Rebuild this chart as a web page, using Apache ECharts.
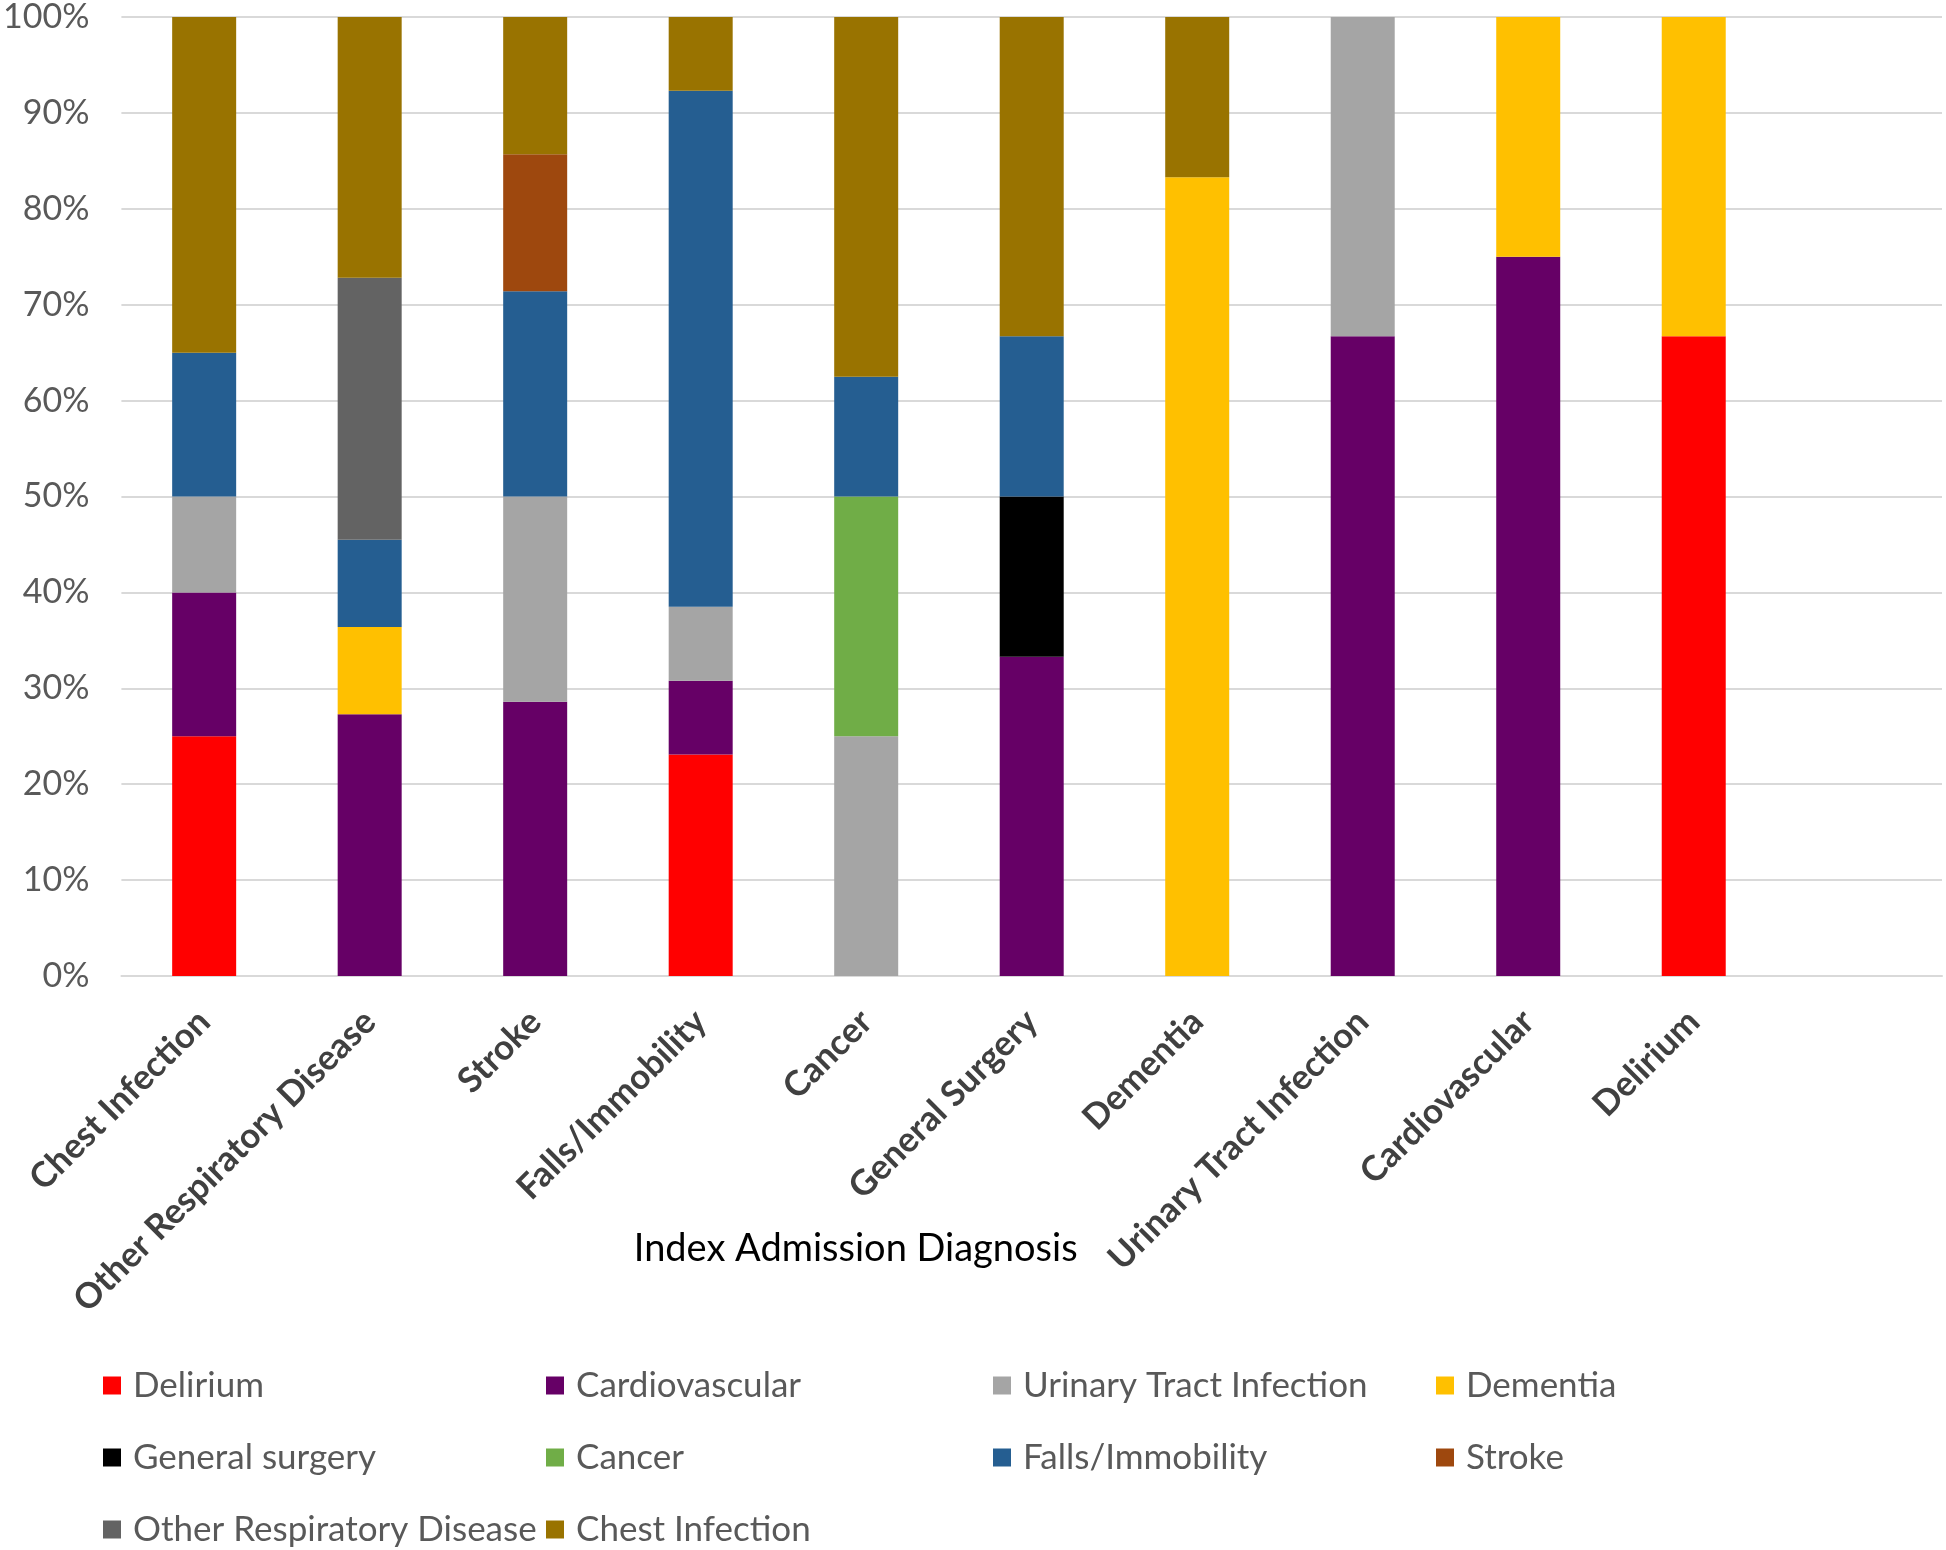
<!DOCTYPE html>
<html>
<head>
<meta charset="utf-8">
<script src="https://cdn.jsdelivr.net/npm/echarts@6/dist/echarts.min.js"></script>
<style>html,body{margin:0;padding:0;background:#fff;}#chart{width:1946px;height:1550px;}</style>
</head>
<body>
<div id="chart"></div>
<script>
const categories = ['Chest Infection', 'Other Respiratory Disease', 'Stroke', 'Falls/Immobility', 'Cancer', 'General Surgery', 'Dementia', 'Urinary Tract Infection', 'Cardiovascular', 'Delirium', ''];
const yTicks = [0, 10, 20, 30, 40, 50, 60, 70, 80, 90, 100];

const delirium       = [25, 0, 0, 23.1, 0, 0, 0, 0, 0, 66.7, 0];
const cardiovascular = [15, 27.3, 28.6, 7.7, 0, 33.3, 0, 66.7, 75, 0, 0];
const uti            = [10, 0, 21.4, 7.7, 25, 0, 0, 33.3, 0, 0, 0];
const dementia       = [0, 9.1, 0, 0, 0, 0, 83.3, 0, 25, 33.3, 0];
const generalSurgery = [0, 0, 0, 0, 0, 16.7, 0, 0, 0, 0, 0];
const cancer         = [0, 0, 0, 0, 25, 0, 0, 0, 0, 0, 0];
const falls          = [15, 9.1, 21.4, 53.8, 12.5, 16.7, 0, 0, 0, 0, 0];
const stroke         = [0, 0, 14.3, 0, 0, 0, 0, 0, 0, 0, 0];
const otherResp      = [0, 27.3, 0, 0, 0, 0, 0, 0, 0, 0, 0];
const chestInfection = [35, 27.2, 14.3, 7.7, 37.5, 33.3, 16.7, 0, 0, 0, 0];

const seriesNames = ['Delirium', 'Cardiovascular', 'Urinary Tract Infection', 'Dementia', 'General surgery', 'Cancer', 'Falls/Immobility', 'Stroke', 'Other Respiratory Disease', 'Chest Infection'];
const seriesData = [delirium, cardiovascular, uti, dementia, generalSurgery, cancer, falls, stroke, otherResp, chestInfection];
const seriesColors = ['#FF0000', '#660066', '#A5A5A5', '#FFC000', '#000000', '#70AD47', '#255E91', '#9E480E', '#636363', '#997300'];

const FONT = 'Lato';
const chart = echarts.init(document.getElementById('chart'));

const legendCols = [
  { left: 103, names: ['Delirium', 'General surgery', 'Other Respiratory Disease'] },
  { left: 546, names: ['Cardiovascular', 'Cancer', 'Chest Infection'] },
  { left: 993, names: ['Urinary Tract Infection', 'Falls/Immobility'] },
  { left: 1436, names: ['Dementia', 'Stroke'] }
];

chart.setOption({
  animation: false,
  backgroundColor: '#ffffff',
  textStyle: { fontFamily: FONT },
  grid: { left: 114, right: 4, top: 12, bottom: 574, containLabel: false },
  legend: legendCols.map(c => ({
    orient: 'vertical',
    left: c.left,
    top: 1368,
    padding: 0,
    itemWidth: 18,
    itemHeight: 18,
    itemGap: 37,
    icon: 'rect',
    selectedMode: false,
    data: c.names,
    textStyle: { fontFamily: FONT, fontSize: 35, color: '#595959', padding: [0, 0, 0, 7] }
  })),
  xAxis: {
    type: 'category',
    data: categories,
    name: 'Index Admission Diagnosis',
    nameLocation: 'middle',
    nameGap: 254,
    nameMoveOverlap: false,
    nameTextStyle: { fontFamily: FONT, fontSize: 38, color: '#000000', padding: [0, 352, 0, 0] },
    axisLine: { show: true, lineStyle: { color: '#D9D9D9', width: 2 } },
    axisTick: { show: false },
    axisLabel: { rotate: 45, margin: 40, interval: 0, fontFamily: FONT, fontSize: 35, fontWeight: 'bold', color: '#404040' }
  },
  yAxis: {
    type: 'value',
    min: 0,
    max: 100,
    interval: 10,
    axisLine: { show: false },
    axisTick: { show: false },
    splitLine: { lineStyle: { color: '#D9D9D9', width: 2 } },
    axisLabel: {
      margin: 32,
      fontFamily: FONT,
      fontSize: 34,
      color: '#595959',
      formatter: v => (yTicks.indexOf(v) >= 0 ? v + '%' : '')
    }
  },
  series: seriesNames.map((n, i) => ({
    name: n,
    type: 'bar',
    stack: 'total',
    barWidth: 64,
    data: seriesData[i],
    itemStyle: { color: seriesColors[i] }
  }))
});
</script>
</body>
</html>
